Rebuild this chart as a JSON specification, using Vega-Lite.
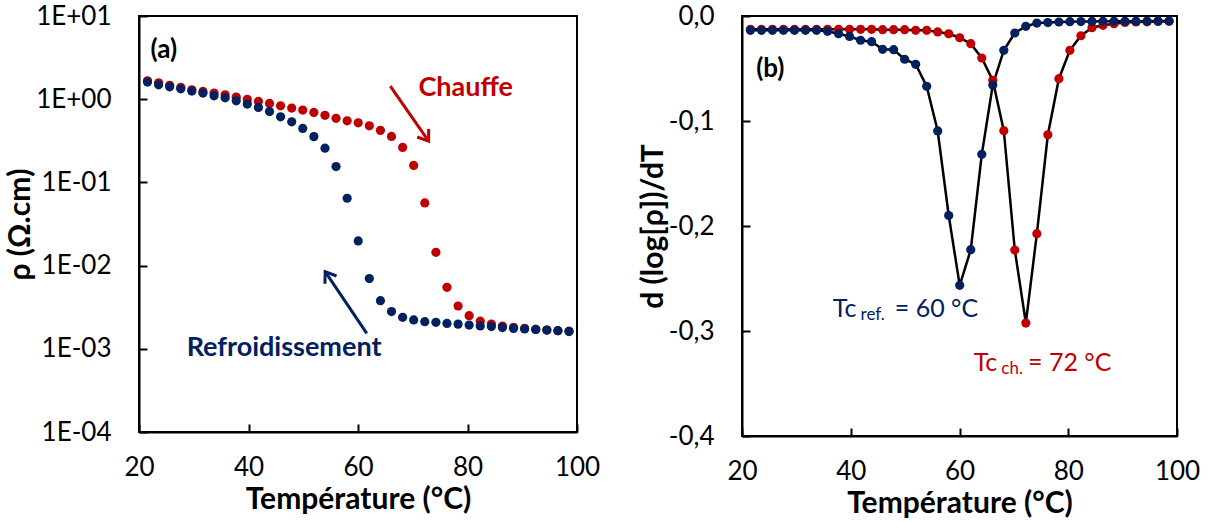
{
"$schema": "https://vega.github.io/schema/vega-lite/v6.json",
"autosize": {"type": "pad"},
"padding": {"left": 4, "top": 2, "right": 0, "bottom": 0},
"background": "white",
"config": {
 "font": "Lato",
 "view": {"stroke": "black", "strokeWidth": 2},
 "axis": {"grid": false, "domainColor": "black", "domainWidth": 2, "tickColor": "black", "tickWidth": 2, "tickSize": -8, "labelFont": "Lato", "labelFontSize": 26, "labelColor": "black", "titleFont": "Lato", "titleFontSize": 30, "titleFontWeight": "bold", "titleColor": "black"},
 "axisX": {"labelPadding": 30, "titlePadding": 4, "labelFlush": false},
 "axisY": {"labelPadding": 36, "titlePadding": 0}
},
"data": {"values": [
{"T":21.55,"s":"Chauffe","rho":1.664,"d":-0.0127},
{"T":23.58,"s":"Chauffe","rho":1.574,"d":-0.0127},
{"T":25.60,"s":"Chauffe","rho":1.466,"d":-0.0127},
{"T":27.63,"s":"Chauffe","rho":1.387,"d":-0.0127},
{"T":29.65,"s":"Chauffe","rho":1.297,"d":-0.0127},
{"T":31.68,"s":"Chauffe","rho":1.241,"d":-0.0127},
{"T":33.71,"s":"Chauffe","rho":1.184,"d":-0.0127},
{"T":35.73,"s":"Chauffe","rho":1.130,"d":-0.0127},
{"T":37.76,"s":"Chauffe","rho":1.059,"d":-0.0127},
{"T":39.78,"s":"Chauffe","rho":0.995,"d":-0.0127},
{"T":41.81,"s":"Chauffe","rho":0.941,"d":-0.0127},
{"T":43.84,"s":"Chauffe","rho":0.890,"d":-0.0127},
{"T":45.86,"s":"Chauffe","rho":0.833,"d":-0.0130},
{"T":47.89,"s":"Chauffe","rho":0.782,"d":-0.0130},
{"T":49.91,"s":"Chauffe","rho":0.740,"d":-0.0130},
{"T":51.94,"s":"Chauffe","rho":0.694,"d":-0.0136},
{"T":53.97,"s":"Chauffe","rho":0.640,"d":-0.0136},
{"T":55.99,"s":"Chauffe","rho":0.590,"d":-0.0152},
{"T":58.02,"s":"Chauffe","rho":0.550,"d":-0.0169},
{"T":60.04,"s":"Chauffe","rho":0.520,"d":-0.0207},
{"T":62.07,"s":"Chauffe","rho":0.479,"d":-0.0264},
{"T":64.10,"s":"Chauffe","rho":0.422,"d":-0.0400},
{"T":66.12,"s":"Chauffe","rho":0.357,"d":-0.0613},
{"T":68.15,"s":"Chauffe","rho":0.263,"d":-0.1092},
{"T":70.17,"s":"Chauffe","rho":0.160,"d":-0.2229},
{"T":72.20,"s":"Chauffe","rho":0.0566,"d":-0.2924},
{"T":74.23,"s":"Chauffe","rho":0.01445,"d":-0.2073},
{"T":76.25,"s":"Chauffe","rho":0.00548,"d":-0.1131},
{"T":78.28,"s":"Chauffe","rho":0.00327,"d":-0.0597},
{"T":80.30,"s":"Chauffe","rho":0.00250,"d":-0.0327},
{"T":82.33,"s":"Chauffe","rho":0.00215,"d":-0.0188},
{"T":84.36,"s":"Chauffe","rho":0.00198,"d":-0.0112},
{"T":86.38,"s":"Chauffe","rho":0.00188,"d":-0.0089},
{"T":88.41,"s":"Chauffe","rho":0.00181,"d":-0.0073},
{"T":90.43,"s":"Chauffe","rho":0.00176,"d":-0.0062},
{"T":92.46,"s":"Chauffe","rho":0.00171,"d":-0.0057},
{"T":94.49,"s":"Chauffe","rho":0.00168,"d":-0.0055},
{"T":96.51,"s":"Chauffe","rho":0.00165,"d":-0.0052},
{"T":98.54,"s":"Chauffe","rho":0.00163,"d":-0.0050},
{"T":21.55,"s":"Refroidissement","rho":1.607,"d":-0.0136},
{"T":23.58,"s":"Refroidissement","rho":1.489,"d":-0.0136},
{"T":25.60,"s":"Refroidissement","rho":1.409,"d":-0.0136},
{"T":27.63,"s":"Refroidissement","rho":1.333,"d":-0.0136},
{"T":29.65,"s":"Refroidissement","rho":1.253,"d":-0.0136},
{"T":31.68,"s":"Refroidissement","rho":1.185,"d":-0.0136},
{"T":33.71,"s":"Refroidissement","rho":1.099,"d":-0.0136},
{"T":35.73,"s":"Refroidissement","rho":1.040,"d":-0.0146},
{"T":37.76,"s":"Refroidissement","rho":0.957,"d":-0.0169},
{"T":39.78,"s":"Refroidissement","rho":0.873,"d":-0.0195},
{"T":41.81,"s":"Refroidissement","rho":0.796,"d":-0.0231},
{"T":43.84,"s":"Refroidissement","rho":0.713,"d":-0.0245},
{"T":45.86,"s":"Refroidissement","rho":0.614,"d":-0.0317},
{"T":47.89,"s":"Refroidissement","rho":0.535,"d":-0.0321},
{"T":49.91,"s":"Refroidissement","rho":0.445,"d":-0.0412},
{"T":51.94,"s":"Refroidissement","rho":0.355,"d":-0.0460},
{"T":53.97,"s":"Refroidissement","rho":0.258,"d":-0.0670},
{"T":55.99,"s":"Refroidissement","rho":0.155,"d":-0.1095},
{"T":58.02,"s":"Refroidissement","rho":0.0645,"d":-0.1900},
{"T":60.04,"s":"Refroidissement","rho":0.0198,"d":-0.2565},
{"T":62.07,"s":"Refroidissement","rho":0.00698,"d":-0.2226},
{"T":64.10,"s":"Refroidissement","rho":0.00379,"d":-0.1317},
{"T":66.12,"s":"Refroidissement","rho":0.00280,"d":-0.0657},
{"T":68.15,"s":"Refroidissement","rho":0.00239,"d":-0.0327},
{"T":70.17,"s":"Refroidissement","rho":0.00222,"d":-0.0162},
{"T":72.20,"s":"Refroidissement","rho":0.00212,"d":-0.0098},
{"T":74.23,"s":"Refroidissement","rho":0.00208,"d":-0.0067},
{"T":76.25,"s":"Refroidissement","rho":0.00202,"d":-0.0063},
{"T":78.28,"s":"Refroidissement","rho":0.00198,"d":-0.0057},
{"T":80.30,"s":"Refroidissement","rho":0.00193,"d":-0.0054},
{"T":82.33,"s":"Refroidissement","rho":0.00188,"d":-0.0053},
{"T":84.36,"s":"Refroidissement","rho":0.00185,"d":-0.0052},
{"T":86.38,"s":"Refroidissement","rho":0.00180,"d":-0.0051},
{"T":88.41,"s":"Refroidissement","rho":0.00176,"d":-0.0050},
{"T":90.43,"s":"Refroidissement","rho":0.00173,"d":-0.0050},
{"T":92.46,"s":"Refroidissement","rho":0.00171,"d":-0.0049},
{"T":94.49,"s":"Refroidissement","rho":0.00168,"d":-0.0049},
{"T":96.51,"s":"Refroidissement","rho":0.00165,"d":-0.0048},
{"T":98.54,"s":"Refroidissement","rho":0.00161,"d":-0.0048}
]},
"spacing": 165,
"bounds": "flush",
"hconcat": [
{
 "width": 438, "height": 416,
 "layer": [
  {"mark": {"type": "point", "filled": true, "size": 85, "opacity": 1},
   "encoding": {
    "x": {"field": "T", "type": "quantitative", "scale": {"domain": [20, 100], "nice": false}, "axis": {"values": [20, 40, 60, 80, 100], "title": "Température (°C)"}},
    "y": {"field": "rho", "type": "quantitative", "scale": {"type": "log", "domain": [0.0001, 10], "nice": false}, "axis": {"values": [0.0001, 0.001, 0.01, 0.1, 1, 10], "title": "ρ (Ω.cm)", "labelExpr": "datum.value >= 5 ? '1E+01' : datum.value >= 0.5 ? '1E+00' : datum.value >= 0.05 ? '1E-01' : datum.value >= 0.005 ? '1E-02' : datum.value >= 0.0005 ? '1E-03' : '1E-04'"}},
    "color": {"field": "s", "type": "nominal", "scale": {"domain": ["Chauffe", "Refroidissement"], "range": ["#C00000", "#002060"]}, "legend": null}
   }},
  {"data": {"values": [{"t": "(a)"}]},
   "mark": {"type": "text", "align": "left", "baseline": "middle", "fontSize": 26, "fontWeight": "bold", "color": "black"},
   "encoding": {"x": {"datum": 22.1, "type": "quantitative"}, "y": {"datum": 3.9, "type": "quantitative"}, "text": {"field": "t"}}},
  {"data": {"values": [{"t": "Chauffe"}]},
   "mark": {"type": "text", "align": "left", "baseline": "middle", "fontSize": 27, "fontWeight": "bold", "color": "#C00000"},
   "encoding": {"x": {"datum": 71.05, "type": "quantitative"}, "y": {"datum": 1.36, "type": "quantitative"}, "text": {"field": "t"}}},
  {"data": {"values": [{"t": "Refroidissement"}]},
   "mark": {"type": "text", "align": "left", "baseline": "middle", "fontSize": 27, "fontWeight": "bold", "color": "#002060"},
   "encoding": {"x": {"datum": 28.7, "type": "quantitative"}, "y": {"datum": 0.00101, "type": "quantitative"}, "text": {"field": "t"}}},
  {"data": {"values": [{"a": "chauffe"}]},
   "mark": {"type": "rule", "color": "#C00000", "strokeWidth": 3},
   "encoding": {"x": {"datum": 65.9, "type": "quantitative"}, "y": {"datum": 1.44, "type": "quantitative"}, "x2": {"datum": 72.9}, "y2": {"datum": 0.313}}},
  {"data": {"values": [{"a": "chauffe"}]},
   "mark": {"type": "point", "shape": "M -0.7 1 L 0 0 L 0.7 1", "filled": false, "size": 400, "strokeWidth": 3, "color": "#C00000", "opacity": 1, "angle": 145},
   "encoding": {"x": {"datum": 72.9, "type": "quantitative"}, "y": {"datum": 0.313, "type": "quantitative"}}},
  {"data": {"values": [{"a": "refroid"}]},
   "mark": {"type": "rule", "color": "#002060", "strokeWidth": 3},
   "encoding": {"x": {"datum": 61.6, "type": "quantitative"}, "y": {"datum": 0.00153, "type": "quantitative"}, "x2": {"datum": 54.0}, "y2": {"datum": 0.00847}}},
  {"data": {"values": [{"a": "refroid"}]},
   "mark": {"type": "point", "shape": "M -0.7 1 L 0 0 L 0.7 1", "filled": false, "size": 400, "strokeWidth": 3, "color": "#002060", "opacity": 1, "angle": 326},
   "encoding": {"x": {"datum": 54.0, "type": "quantitative"}, "y": {"datum": 0.00847, "type": "quantitative"}}}
 ]
},
{
 "width": 435, "height": 420,
 "layer": [
  {"mark": {"type": "line", "color": "black", "strokeWidth": 2.5},
   "encoding": {
    "x": {"field": "T", "type": "quantitative", "scale": {"domain": [20, 100], "nice": false}, "axis": {"values": [20, 40, 60, 80, 100], "title": "Température (°C)"}},
    "y": {"field": "d", "type": "quantitative", "scale": {"domain": [-0.4, 0], "nice": false}, "axis": {"values": [-0.4, -0.3, -0.2, -0.1, 0], "title": "d (log[ρ])/dT", "titlePadding": 0, "labelExpr": "(datum.value < -0.0001 ? '-' : '') + replace(format(abs(datum.value), '.1f'), '.', ',')"}},
    "detail": {"field": "s", "type": "nominal"}
   }},
  {"mark": {"type": "point", "filled": true, "size": 85, "opacity": 1},
   "encoding": {
    "x": {"field": "T", "type": "quantitative"},
    "y": {"field": "d", "type": "quantitative"},
    "color": {"field": "s", "type": "nominal", "scale": {"domain": ["Chauffe", "Refroidissement"], "range": ["#C00000", "#002060"]}, "legend": null}
   }},
  {"data": {"values": [{"t": "(b)"}]},
   "mark": {"type": "text", "align": "left", "baseline": "middle", "fontSize": 26, "fontWeight": "bold", "color": "black"},
   "encoding": {"x": {"datum": 22.6, "type": "quantitative"}, "y": {"datum": -0.05, "type": "quantitative"}, "text": {"field": "t"}}},
  {"data": {"values": [{"t": "Tc"}]},
   "mark": {"type": "text", "align": "left", "baseline": "middle", "fontSize": 25, "color": "#002060"},
   "encoding": {"x": {"datum": 36.7, "type": "quantitative"}, "y": {"datum": -0.279, "type": "quantitative"}, "text": {"field": "t"}}},
  {"data": {"values": [{"t": "ref."}]},
   "mark": {"type": "text", "align": "left", "baseline": "middle", "fontSize": 17, "color": "#002060"},
   "encoding": {"x": {"datum": 41.8, "type": "quantitative"}, "y": {"datum": -0.285, "type": "quantitative"}, "text": {"field": "t"}}},
  {"data": {"values": [{"t": "= 60 °C"}]},
   "mark": {"type": "text", "align": "left", "baseline": "middle", "fontSize": 25, "color": "#002060"},
   "encoding": {"x": {"datum": 48.1, "type": "quantitative"}, "y": {"datum": -0.279, "type": "quantitative"}, "text": {"field": "t"}}},
  {"data": {"values": [{"t": "Tc"}]},
   "mark": {"type": "text", "align": "left", "baseline": "middle", "fontSize": 25, "color": "#C00000"},
   "encoding": {"x": {"datum": 62.6, "type": "quantitative"}, "y": {"datum": -0.33, "type": "quantitative"}, "text": {"field": "t"}}},
  {"data": {"values": [{"t": "ch."}]},
   "mark": {"type": "text", "align": "left", "baseline": "middle", "fontSize": 17, "color": "#C00000"},
   "encoding": {"x": {"datum": 67.7, "type": "quantitative"}, "y": {"datum": -0.336, "type": "quantitative"}, "text": {"field": "t"}}},
  {"data": {"values": [{"t": "= 72 °C"}]},
   "mark": {"type": "text", "align": "left", "baseline": "middle", "fontSize": 25, "color": "#C00000"},
   "encoding": {"x": {"datum": 72.6, "type": "quantitative"}, "y": {"datum": -0.33, "type": "quantitative"}, "text": {"field": "t"}}}
 ]
}
]
}
